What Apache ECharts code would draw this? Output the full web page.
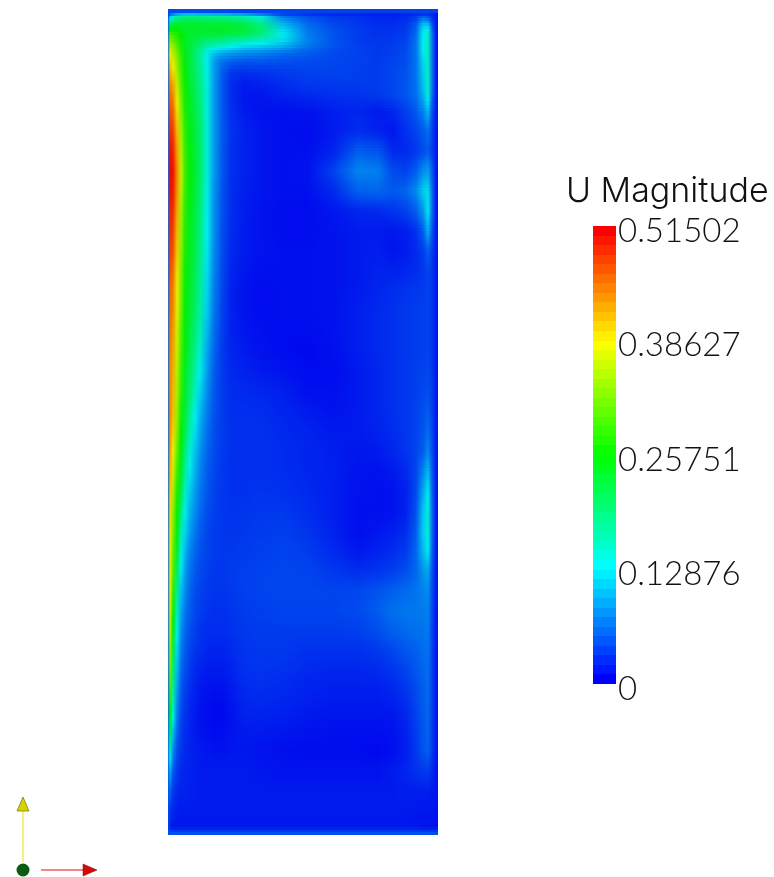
<!DOCTYPE html>
<html><head><meta charset="utf-8">
<style>html,body{margin:0;padding:0;background:#fff}#c{width:774px;height:877px}</style>
<script src="https://cdn.jsdelivr.net/npm/echarts@6/dist/echarts.min.js"></script>
</head><body><div id="c"></div>
<script>
const titleText = 'U Magnitude';
const maxValue = 0.51502;
const tickValues = [0, 0.12876, 0.25751, 0.38627, 0.51502];
const tickLabels = ['0', '0.12876', '0.25751', '0.38627', '0.51502'];
const rampColors = ['#0000ff', '#00ffff', '#00ff00', '#ffff00', '#ff0000'];
const fieldColors = ['#0000ee', '#00eeee', '#00ee00', '#eeee00', '#ee0000'];
const colorBands = 48;
// horizontal sample positions across the cavity (0..270)
const columnX = [0,2,5,9,13,17,22,27,32,39,46,54,63,76,93,115,140,165,190,210,225,238,248,255,260,264,268,270];
// top edge of each row of samples (0..826, from the top of the cavity)
const rowY = [0,2,5,9,14,20,26,32,40,48,58,68,80,92,112,132,152,172,192,212,232,252,272,292,312,332,352,372,392,412,432,452,472,492,512,532,552,572,592,612,632,652,672,692,712,732,752,772,792,812,824,826];
// velocity magnitude in thousandths, one list per row
const fieldRows = [
[45,45,45,45,45,45,45,45,45,45,45,45,45,45,45,45,45,45,45,45,45,45,45,45,45,45,45,45],
[30,25,30,35,40,40,40,40,35,35,30,30,25,25,20,18,15,12,12,12,12,15,15,15,15,12,10,10],
[30,90,120,150,160,170,170,170,165,165,165,165,160,150,120,60,40,30,25,20,20,20,30,45,40,25,15,10],
[40,170,195,210,215,220,220,220,220,215,215,215,210,200,170,85,50,35,28,22,22,25,40,80,70,35,15,10],
[45,220,240,240,235,235,235,235,235,235,235,235,230,225,195,105,60,40,30,25,25,30,50,110,115,50,15,10],
[50,280,275,265,250,240,235,235,235,235,235,235,230,225,200,125,65,45,32,26,28,32,55,125,140,60,15,10],
[55,320,300,280,260,240,230,225,220,215,210,205,195,190,170,125,70,45,32,28,30,35,60,130,150,65,15,10],
[55,350,330,300,270,240,225,210,195,170,160,155,140,125,115,100,65,45,34,30,32,38,62,130,155,65,15,10],
[55,380,355,320,280,245,225,200,175,135,105,90,85,75,70,60,50,40,35,30,34,40,62,125,155,65,15,10],
[55,400,375,335,290,250,225,200,175,130,85,60,50,45,45,42,40,38,35,32,36,42,62,115,150,65,15,10],
[55,420,395,345,295,255,225,205,180,135,85,50,30,25,28,32,35,36,34,32,38,44,62,110,150,65,15,10],
[55,440,420,360,305,260,230,210,185,135,85,48,24,15,18,25,30,32,32,32,38,46,62,105,148,65,15,10],
[55,455,440,375,315,265,235,215,190,140,85,48,24,12,12,18,22,26,28,30,38,46,60,95,140,60,15,10],
[55,470,460,395,330,270,240,220,195,140,85,48,26,14,10,8,10,16,20,14,20,34,48,70,100,45,15,10],
[55,490,480,415,345,280,245,225,200,140,85,50,28,18,12,8,6,14,24,18,12,26,36,48,60,35,15,10],
[55,505,495,430,355,285,250,228,205,140,85,48,26,18,12,8,8,18,50,45,22,22,30,40,48,32,15,10],
[55,510,505,440,365,290,250,230,205,140,85,48,26,18,12,8,10,35,72,68,40,35,50,75,85,50,15,10],
[55,505,500,435,360,285,250,228,200,135,80,45,25,16,12,8,8,22,52,55,48,55,75,110,120,60,15,10],
[55,495,490,425,345,280,245,222,195,130,78,45,25,15,10,6,6,12,20,22,28,35,50,80,125,60,15,10],
[55,490,480,415,340,275,240,220,190,130,78,42,24,14,10,6,6,10,14,14,12,16,26,50,95,45,15,10],
[55,480,470,405,335,270,240,218,185,125,75,42,22,14,10,8,8,10,14,16,10,15,22,32,50,32,15,10],
[55,470,455,395,325,265,235,215,180,120,72,40,20,12,8,8,8,10,14,18,18,20,24,30,36,28,15,10],
[55,460,445,385,320,262,232,210,175,115,68,38,18,10,6,8,8,10,14,20,24,28,30,32,36,28,15,10],
[55,455,440,380,315,258,228,205,170,110,65,36,18,10,6,8,8,10,16,22,26,30,32,34,36,28,15,10],
[55,450,430,370,305,252,222,195,160,100,60,34,18,12,8,6,6,10,16,22,26,30,32,34,36,28,15,10],
[55,445,425,365,300,250,215,185,145,90,55,32,20,14,10,6,4,8,16,22,26,30,32,34,36,28,15,10],
[55,440,420,355,290,240,205,170,130,85,50,32,22,18,14,10,6,6,14,20,26,30,34,36,38,30,15,10],
[55,440,415,350,285,235,195,155,115,75,48,32,24,22,20,16,8,8,14,20,26,30,34,38,42,32,15,10],
[55,440,410,340,270,225,180,135,100,68,45,32,25,25,24,20,14,10,14,20,26,30,36,42,50,35,15,10],
[55,435,400,330,260,215,160,120,90,60,42,32,26,26,26,22,18,14,14,18,24,30,36,45,58,38,15,10],
[55,425,385,310,250,195,140,105,80,55,40,32,26,26,26,24,20,16,12,14,20,28,36,50,72,42,15,10],
[55,415,370,290,240,175,125,95,72,50,38,30,26,26,26,24,20,16,10,10,14,22,38,70,100,50,15,10],
[55,405,355,270,225,150,110,85,65,46,36,30,26,26,28,26,22,16,10,8,10,18,40,90,125,55,15,10],
[55,395,335,260,195,130,95,75,58,42,34,30,28,28,30,30,24,16,8,8,10,18,44,105,140,60,15,10],
[55,390,325,250,165,115,85,65,50,38,32,30,28,30,32,34,28,18,8,12,16,24,50,110,140,60,15,10],
[55,385,310,235,140,100,70,55,44,36,32,30,30,32,34,36,32,22,12,18,24,32,55,100,125,55,15,10],
[55,385,300,210,125,85,62,48,40,34,30,30,32,34,36,38,36,30,25,28,34,42,55,80,90,45,15,10],
[55,385,280,180,105,75,54,42,36,30,28,28,30,34,36,38,38,36,38,45,52,58,62,70,75,42,15,10],
[55,375,265,155,90,65,48,38,32,28,26,26,28,32,34,36,36,36,40,50,60,64,64,66,70,40,15,10],
[55,360,245,135,78,55,42,34,28,24,24,24,26,30,32,32,32,32,34,42,52,58,60,62,66,38,15,10],
[55,340,220,115,68,48,36,28,24,20,18,18,22,28,30,30,26,26,26,30,38,46,52,58,62,35,15,10],
[55,320,195,100,58,42,30,22,18,14,14,14,18,26,28,26,22,20,20,22,28,36,46,54,60,35,15,10],
[55,290,170,85,48,34,24,18,12,10,8,8,14,22,24,22,18,16,16,16,20,28,40,50,58,34,15,10],
[55,260,140,70,42,28,20,14,10,6,4,4,10,18,20,18,14,12,12,12,14,22,36,48,56,34,15,10],
[55,215,105,55,34,24,18,14,10,8,6,6,10,14,14,12,10,8,8,8,10,18,32,46,54,32,15,10],
[55,150,75,42,28,22,18,16,14,12,10,10,12,12,10,8,6,6,6,4,8,16,30,44,52,32,15,10],
[50,95,50,30,22,20,18,16,14,14,14,14,14,14,12,10,10,10,10,10,14,20,26,30,32,22,12,10],
[45,55,30,22,18,18,16,16,14,14,14,14,14,14,14,14,14,14,14,14,14,16,16,16,16,14,12,10],
[40,30,20,16,14,14,14,14,14,14,14,14,14,14,14,14,14,14,14,14,14,14,12,12,12,12,10,10],
[40,18,12,12,12,12,12,12,12,12,12,12,12,12,12,12,12,12,12,12,12,12,12,10,10,10,8,8],
[45,45,45,45,45,45,45,45,45,45,45,45,45,45,45,45,45,45,45,45,45,45,45,45,45,45,45,45]
];

const LABEL_FONT = 'Lato, "Open Sans", sans-serif';
const lastColumn = columnX[columnX.length - 1];
const lastRow = fieldRows.length - 1;
const rowMid = i => (rowY[i] + rowY[i + 1]) / 2;
const colourOf = v => echarts.color.lerp(Math.min(1, v / 1000 / maxValue), fieldColors);
// one mark per pair of neighbouring rows; shaded between them in renderRow
const rowsData = fieldRows.slice(0, -1).map((r, i) => [0, i === 0 ? 0 : rowMid(i), 270, i === lastRow - 1 ? rowY[lastRow + 1] : rowMid(i + 1), i]);

function renderRow(params, api) {
  const i = api.value(4);
  const top = api.value(1), bottom = api.value(3);
  const a = api.coord([0, top]), b = api.coord([lastColumn, bottom]);
  const from = rowMid(i), to = rowMid(i + 1);
  const pxH = b[1] - a[1];
  const slices = Math.max(1, Math.round(pxH / 3));
  const children = [];
  for (let s = 0; s < slices; s++) {
    const y0 = Math.round(a[1] + pxH * s / slices);
    const y1 = Math.round(a[1] + pxH * (s + 1) / slices);
    if (y1 <= y0) continue;
    const yData = top + (bottom - top) * (s + 0.5) / slices;
    const t = Math.min(1, Math.max(0, (yData - from) / (to - from)));
    children.push({
      type: 'rect',
      shape: { x: a[0], y: y0, width: b[0] - a[0], height: y1 - y0 },
      style: { fill: { type: 'linear', x: 0, y: 0, x2: 1, y2: 0,
        colorStops: fieldRows[i].map((v, k) => ({
          offset: columnX[k] / lastColumn,
          color: colourOf(v + (fieldRows[i + 1][k] - v) * t)
        })) } }
    });
  }
  return { type: 'group', children };
}

function renderBar(params, api) {
  const a = api.coord([0, maxValue]), b = api.coord([1, 0]);
  const h = (b[1] - a[1]) / colorBands;
  const children = [];
  for (let s = 0; s < colorBands; s++) {
    const y0 = Math.round(a[1] + s * h), y1 = Math.round(a[1] + (s + 1) * h);
    children.push({
      type: 'rect',
      shape: { x: a[0], y: y0, width: b[0] - a[0], height: y1 - y0 },
      style: { fill: echarts.color.lerp(1 - s / (colorBands - 1), rampColors) }
    });
  }
  return { type: 'group', children };
}

const chart = echarts.init(document.getElementById('c'), null, { renderer: 'canvas' });
chart.setOption({
  animation: false,
  backgroundColor: '#ffffff',
  title: { text: titleText, left: 566, top: 175, padding: 0,
    textStyle: { fontFamily: 'Inter, Lato, sans-serif', fontSize: 34, fontWeight: 300, color: '#111' } },
  grid: [
    { left: 168, top: 9, width: 270, height: 826 },
    { left: 593, top: 226, width: 23, height: 458 }
  ],
  xAxis: [
    { gridIndex: 0, type: 'value', min: 0, max: 270, show: false },
    { gridIndex: 1, type: 'value', min: 0, max: 1, show: false }
  ],
  yAxis: [
    { gridIndex: 0, type: 'value', min: 0, max: 826, inverse: true, show: false },
    { gridIndex: 1, type: 'value', min: 0, max: maxValue, position: 'right',
      axisLine: { show: false }, axisTick: { show: false }, splitLine: { show: false },
      axisLabel: { customValues: tickValues, margin: 2, verticalAlign: 'top', lineHeight: 10,
        fontFamily: LABEL_FONT, fontSize: 33, fontWeight: 300, color: '#111',
        formatter: v => tickLabels[tickValues.indexOf(v)] } }
  ],
  series: [{
    type: 'custom', name: 'U Magnitude', xAxisIndex: 0, yAxisIndex: 0, silent: true,
    encode: { x: [0, 2], y: [1, 3] }, data: rowsData, renderItem: renderRow, clip: true
  }, {
    type: 'custom', name: 'Colour bar', xAxisIndex: 1, yAxisIndex: 1, silent: true,
    encode: { x: 0, y: 1 }, data: [[0, 0]], renderItem: renderBar
  }],
  graphic: [
    { type: 'line', shape: { x1: 23, y1: 862, x2: 23, y2: 808 }, style: { stroke: '#f2ee50', lineWidth: 1.5 } },
    { type: 'polygon', shape: { points: [[23, 797], [29, 811], [17, 811]] }, style: { fill: '#d6d400', stroke: '#5b5a10', lineWidth: 0.6 } },
    { type: 'line', shape: { x1: 41, y1: 870, x2: 84, y2: 870 }, style: { stroke: '#e01010', lineWidth: 1.2 } },
    { type: 'polygon', shape: { points: [[97, 870], [83, 864], [83, 876]] }, style: { fill: '#d80808', stroke: '#701010', lineWidth: 0.5 } },
    { type: 'circle', shape: { cx: 23, cy: 870, r: 6.5 }, style: { fill: '#0b5c12' } }
  ]
});
</script></body></html>
